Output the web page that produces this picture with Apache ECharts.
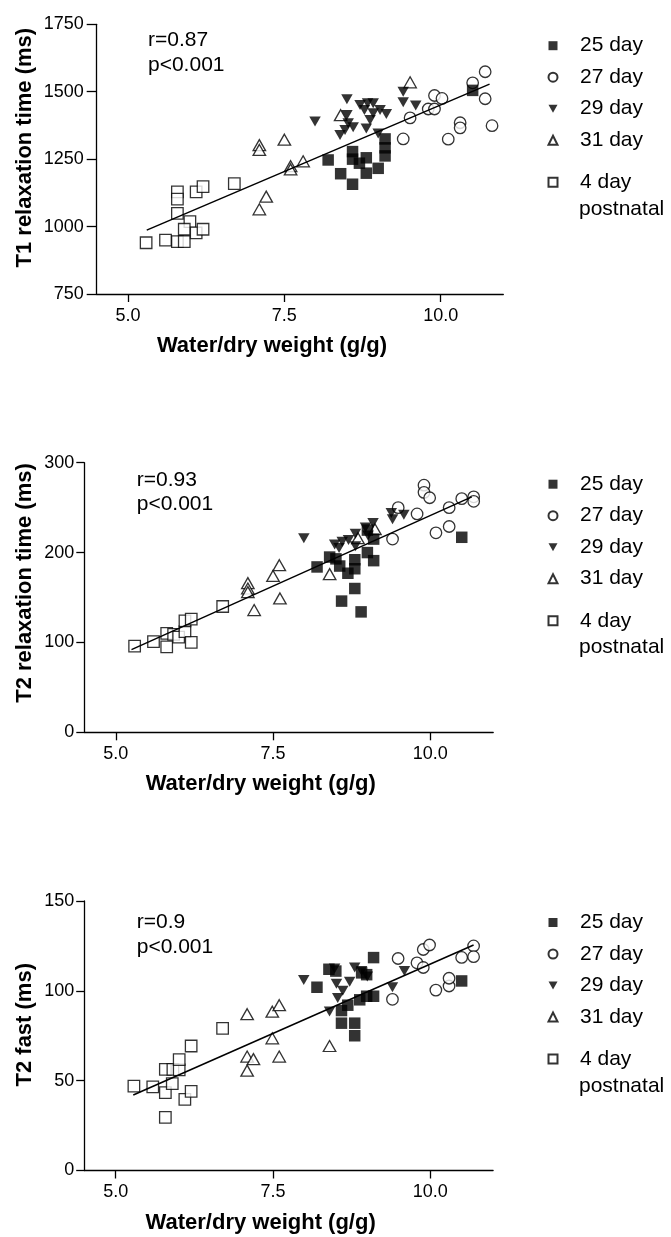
<!DOCTYPE html>
<html>
<head>
<meta charset="utf-8">
<script src="https://cdn.jsdelivr.net/npm/echarts@6/dist/echarts.min.js"></script>
<style>
  html, body { margin: 0; padding: 0; background: #fff; }
  #chart { width: 671px; height: 1237px; }
</style>
</head>
<body>
<div id="chart"></div>
<script>
// ---- data: [water/dry weight, value] ----
const groupNames = ['25 day', '27 day', '29 day', '31 day', '4 day postnatal'];
const xTickValues = [5, 7.5, 10];

// T1 relaxation time (ms)
const t1Day25 = [[8.2,1247],[8.4,1196],[8.59,1278],[8.59,1250],[8.7,1235],[8.81,1255],[8.59,1157],[8.81,1198],[9.0,1216],[9.11,1325],[9.11,1292],[9.11,1262],[10.51,1505]];
const t1Day27 = [[9.4,1325],[9.51,1403],[9.8,1436],[9.9,1436],[9.9,1486],[10.02,1475],[10.12,1324],[10.31,1385],[10.31,1366],[10.51,1533],[10.71,1574],[10.71,1474],[10.82,1374]];
const t1Day29 = [[7.99,1390],[8.5,1472],[8.5,1414],[8.52,1383],[8.47,1358],[8.39,1340],[8.6,1368],[8.71,1451],[8.83,1457],[8.92,1457],[8.81,1364],[8.87,1395],[9.03,1432],[9.13,1417],[9.0,1345],[9.4,1500],[9.4,1461],[9.6,1449],[8.78,1432],[8.92,1420]];
const t1Day31 = [[7.1,1302],[7.1,1284],[7.5,1322],[7.1,1064],[7.21,1111],[7.6,1224],[7.6,1212],[7.8,1242],[8.4,1413],[9.51,1535]];
const t1Day4 = [[5.29,940],[5.6,950],[5.79,944],[5.9,944],[5.79,1129],[5.79,1102],[5.79,1049],[5.99,1018],[5.9,990],[6.09,977],[6.2,990],[6.09,1129],[6.2,1148],[6.7,1159]];
const t1Fit = [[5.3,987],[10.78,1528]];

// T2 relaxation time (ms)
const t2Day25 = [[8.2,184],[8.4,195],[8.5,193],[8.56,185],[8.69,177],[8.8,192],[8.8,182],[8.8,160],[8.59,146],[8.9,134],[9.0,200],[9.1,191],[9.1,215],[9.0,225],[10.5,217]];
const t2Day27 = [[9.4,215],[9.49,250],[9.79,243],[9.9,275],[9.9,267],[9.99,261],[10.09,222],[10.3,229],[10.3,250],[10.5,260],[10.69,262],[10.69,257]];
const t2Day29 = [[7.99,216],[8.48,209],[8.55,205],[8.6,212],[8.7,214],[8.81,221],[8.81,207],[8.97,228],[9.01,219],[9.09,233],[9.38,244],[9.4,237],[9.58,242]];
const t2Day31 = [[7.1,166],[7.1,160],[7.1,156],[7.2,136],[7.5,174],[7.6,186],[7.61,149],[8.4,176],[8.85,216],[9.12,226]];
const t2Day4 = [[5.3,96],[5.6,101],[5.81,110],[5.81,95],[5.92,109],[6.0,106],[6.1,112],[6.1,124],[6.2,126],[6.2,100],[6.7,140]];
const t2Fit = [[5.25,92],[10.66,262]];

// T2 fast (ms)
const fastDay25 = [[8.2,102],[8.39,112],[8.5,111],[8.59,89],[8.59,82],[8.8,82],[8.8,75],[8.69,92],[8.88,95],[8.99,97],[9.1,97],[9.1,118.5],[8.99,109],[8.91,110],[10.5,105.5]];
const fastDay27 = [[9.49,118],[9.4,95.3],[9.79,115.6],[9.89,113],[9.89,123],[9.99,125.5],[10.09,100.4],[10.3,102.7],[10.3,107],[10.5,118.6],[10.69,125],[10.69,119]];
const fastDay29 = [[7.99,106],[8.4,88.5],[8.48,112.5],[8.51,104],[8.53,96],[8.61,100],[8.72,105],[8.8,113],[8.91,111],[9.0,108],[9.4,102],[9.59,111]];
const fastDay31 = [[7.09,87],[7.09,63.4],[7.19,62],[7.09,55.6],[7.49,88.4],[7.6,92],[7.49,73.6],[7.6,63.4],[8.4,69.3]];
const fastDay4 = [[5.29,47],[5.59,46.5],[5.79,56.3],[5.79,43.3],[5.79,29.6],[5.9,48.3],[5.91,56.3],[6.01,56],[6.01,61.7],[6.1,39.6],[6.2,44],[6.2,69.3],[6.7,79.1]];
const fastFit = [[5.28,42],[10.69,125.5]];

const panels = [
  { yName: 'T1 relaxation time (ms)', yMin: 750, yMax: 1750, yStep: 250, stats: ['r=0.87', 'p<0.001'],
    groups: [t1Day25, t1Day27, t1Day29, t1Day31, t1Day4], fit: t1Fit },
  { yName: 'T2 relaxation time (ms)', yMin: 0, yMax: 300, yStep: 100, stats: ['r=0.93', 'p<0.001'],
    groups: [t2Day25, t2Day27, t2Day29, t2Day31, t2Day4], fit: t2Fit },
  { yName: 'T2 fast (ms)', yMin: 0, yMax: 150, yStep: 50, stats: ['r=0.9', 'p<0.001'],
    groups: [fastDay25, fastDay27, fastDay29, fastDay31, fastDay4], fit: fastFit }
];

// ---- layout (pixels) ----
const layout = [
  { left: 96.7, top: 24.3, width: 406.6, height: 269.7, yGap: 61, yShift: 23, yTick: 10, yMargin: 13, statLeft: 148, statTop: 28, legendTop: 33.7 },
  { left: 84.3, top: 462.7, width: 408.9, height: 269.6, yGap: 48, yShift: 29, yTick: 8, yMargin: 10, statLeft: 136.7, statTop: 467.5, legendTop: 472.2 },
  { left: 84.2, top: 901, width: 408.9, height: 269.5, yGap: 48, yShift: 22, yTick: 8, yMargin: 10, statLeft: 136.7, statTop: 910, legendTop: 910.5 }
];

const FONT = '"Liberation Sans", Arial, Helvetica, sans-serif';
const black = '#000';

const markers = [
  { symbol: 'rect', symbolSize: 11.5, itemStyle: { color: black } },
  { symbol: 'circle', symbolSize: 11.5, itemStyle: { color: '#fff', borderColor: black, borderWidth: 1.3 } },
  { symbol: 'path://M0,0L10,0L5,9Z', symbolSize: [11.5, 10], itemStyle: { color: black } },
  { symbol: 'triangle', symbolSize: [12.5, 11], itemStyle: { color: '#fff', borderColor: black, borderWidth: 1.3 } },
  { symbol: 'rect', symbolSize: 11.5, itemStyle: { color: '#fff', borderColor: black, borderWidth: 1.3 } }
];
const drawOrder = [4, 3, 1, 2, 0];

const chart = echarts.init(document.getElementById('chart'), null, { renderer: 'canvas' });

const grid = [], xAxis = [], yAxis = [], series = [], title = [], legend = [];
const legendText = { fontSize: 21, color: black, fontFamily: FONT, lineHeight: 24, padding: [0, 0, 0, 17.5] };

panels.forEach((p, i) => {
  const L = layout[i];
  grid.push({ left: L.left, top: L.top, width: L.width, height: L.height, containLabel: false, outerBoundsMode: 'none' });

  xAxis.push({
    gridIndex: i, type: 'value', min: 4.5, max: 11,
    name: 'Water/dry weight (g/g)', nameLocation: 'middle', nameGap: 41, nameMoveOverlap: false,
    nameTextStyle: { fontSize: 22, fontWeight: 'bold', color: black, fontFamily: FONT, padding: [0, 56, 0, 0] },
    axisLine: { onZero: false, lineStyle: { color: black, width: 1.3 } },
    axisTick: { length: 8, customValues: xTickValues, lineStyle: { color: black, width: 1.3 } },
    axisLabel: { customValues: xTickValues, formatter: v => v.toFixed(1), color: black, fontSize: 18, fontFamily: FONT, margin: 13 },
    splitLine: { show: false }
  });

  yAxis.push({
    gridIndex: i, type: 'value', min: p.yMin, max: p.yMax, interval: p.yStep,
    name: p.yName, nameLocation: 'middle', nameGap: L.yGap, nameMoveOverlap: false,
    nameTextStyle: { fontSize: 22, fontWeight: 'bold', color: black, fontFamily: FONT, padding: [0, 0, 0, L.yShift] },
    axisLine: { show: true, onZero: false, lineStyle: { color: black, width: 1.3 } },
    axisTick: { show: true, length: L.yTick, lineStyle: { color: black, width: 1.3 } },
    axisLabel: { formatter: v => String(v), color: black, fontSize: 18, fontFamily: FONT, margin: L.yMargin },
    splitLine: { show: false }
  });

  drawOrder.forEach(g => {
    series.push(Object.assign({
      name: groupNames[g], type: 'scatter', xAxisIndex: i, yAxisIndex: i,
      data: p.groups[g], silent: true
    }, markers[g]));
  });

  series.push({
    name: 'fit', type: 'line', xAxisIndex: i, yAxisIndex: i, data: p.fit,
    showSymbol: false, silent: true, z: 5,
    lineStyle: { color: black, width: 1.5 }
  });

  title.push({
    text: p.stats.join('\n'), left: L.statLeft, top: L.statTop, padding: 0,
    textStyle: { fontSize: 21, fontWeight: 'normal', color: black, fontFamily: FONT, lineHeight: 24.5 }
  });
  // second line of the "4 day postnatal" legend entry
  title.push({
    text: 'postnatal', left: 579, top: L.legendTop + 163.3, padding: 0,
    textStyle: { fontSize: 21, fontWeight: 'normal', color: black, fontFamily: FONT, lineHeight: 24 }
  });

  legend.push({
    data: groupNames.slice(0, 4), orient: 'vertical', left: 547.5, top: L.legendTop, padding: 0,
    itemWidth: 9, itemHeight: 9, itemGap: 7.5, selectedMode: false, textStyle: legendText
  });
  legend.push({
    data: [groupNames[4]], orient: 'vertical', left: 547.5, top: L.legendTop + 136.6, padding: 0,
    itemWidth: 9, itemHeight: 9, selectedMode: false,
    formatter: name => name.replace(' postnatal', ''),
    textStyle: legendText
  });
});

chart.setOption({
  animation: false,
  backgroundColor: '#fff',
  textStyle: { fontFamily: FONT },
  title, legend, grid, xAxis, yAxis, series
});
</script>
</body>
</html>
